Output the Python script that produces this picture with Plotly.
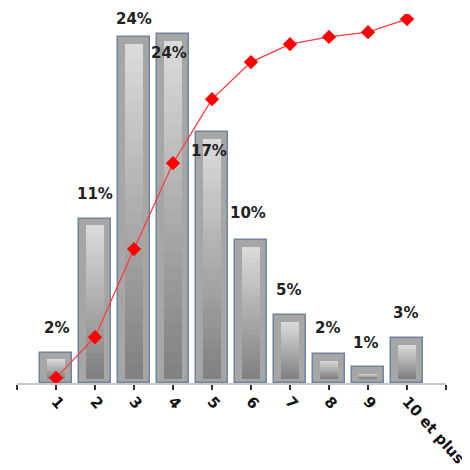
import plotly.graph_objects as go

# ---- data ----
categories = ["1", "2", "3", "4", "5", "6", "7", "8", "9", "10 et plus"]
shares = [2.1, 11.4, 24.0, 24.2, 17.4, 9.9, 4.7, 2.0, 1.1, 3.1]          # % per category (bars)
share_labels = ["2%", "11%", "24%", "24%", "17%", "10%", "5%", "2%", "1%", "3%"]
cumulative = [1.4, 12.6, 36.8, 60.4, 78.0, 88.2, 93.1, 95.1, 96.4, 100.0]  # cumulative % (line)

xpos = list(range(1, len(categories) + 1))

fig = go.Figure()

# outer bars
fig.add_trace(go.Bar(
    x=xpos, y=shares, width=0.8,
    marker=dict(color="#a6a6a6", line=dict(color="#7084a0", width=1.5)),
    hoverinfo="skip", showlegend=False,
))

# inner gradient (stack of overlaid bars, light at top -> dark at bottom)
N = 24
light = (218, 218, 218)
dark = (130, 130, 130)
base = 0.3
for k in range(N):
    t = k / (N - 1)
    col = tuple(int(light[i] + (dark[i] - light[i]) * t) for i in range(3))
    frac = 1 - k / N
    heights = [max(v - 0.45 - base, 0.2) * frac for v in shares]
    fig.add_trace(go.Bar(
        x=xpos, y=heights, base=[base] * len(shares), width=0.47,
        marker=dict(color="rgb(%d,%d,%d)" % col, line=dict(width=0)),
        hoverinfo="skip", showlegend=False,
    ))

# cumulative line
fig.add_trace(go.Scatter(
    x=xpos, y=cumulative, yaxis="y2", mode="lines+markers",
    line=dict(color="#ff3b3b", width=1.3),
    marker=dict(symbol="diamond", size=11, color="#ff0000"),
    hoverinfo="skip", showlegend=False,
))

# percentage labels
yshifts = [25, 25, 18, -19, -19, 27, 25, 26, 24, 25]
xshifts = [0, 0, 0, -4, -3, -3, -2, -2, -3, -2]
for i, (xv, v, lab) in enumerate(zip(xpos, shares, share_labels)):
    fig.add_annotation(
        x=xv, y=v, xref="x", yref="y", text=lab, showarrow=False,
        yanchor="middle", xanchor="center", yshift=yshifts[i], xshift=xshifts[i],
        font=dict(family="DejaVu Sans", size=15, color="#222222", weight="bold"),
    )

fig.update_layout(
    width=462, height=462,
    margin=dict(l=9, r=24, t=6, b=87),
    paper_bgcolor="white", plot_bgcolor="white",
    barmode="overlay", bargap=0,
    xaxis=dict(
        range=[0, 11], tickmode="array",
        tickvals=list(range(0, 12)),
        ticktext=[""] + categories + [""],
        tickangle=48, ticks="outside", ticklen=5, tickcolor="#333333", tickwidth=1.5,
        ticklabelstandoff=-3,
        showline=True, linecolor="#c8c8c8", linewidth=1.5,
        showgrid=False, zeroline=False, automargin=False,
        tickfont=dict(family="DejaVu Sans", size=15, color="#111111", weight="bold"),
    ),
    yaxis=dict(range=[0, 25.6], visible=False, showgrid=False, zeroline=False),
    yaxis2=dict(range=[0, 101.4], overlaying="y", side="right", visible=False,
                showgrid=False, zeroline=False),
)

fig.write_html("out.html")
